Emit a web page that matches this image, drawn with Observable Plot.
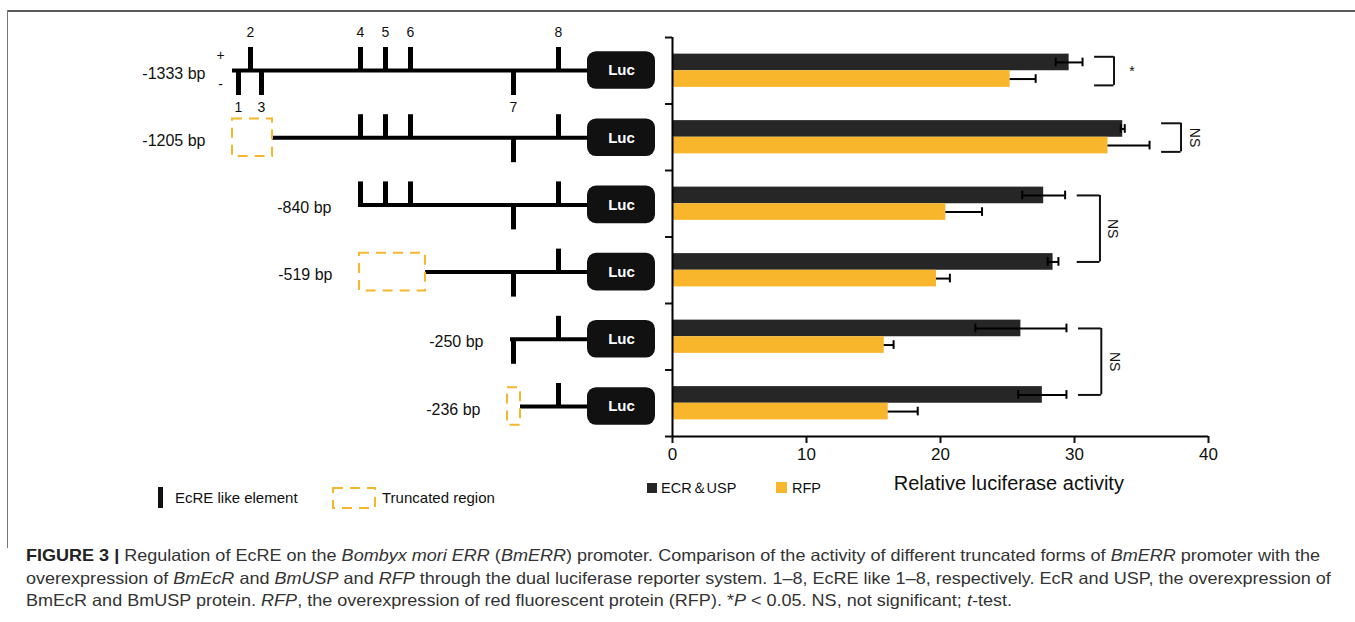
<!DOCTYPE html>
<html><head><meta charset="utf-8">
<script src="https://cdn.jsdelivr.net/npm/d3@7"></script>
<script src="https://cdn.jsdelivr.net/npm/@observablehq/plot@0.6"></script>
<style>
body{margin:0;background:#fff;}
#fig{position:relative;width:1355px;height:622px;overflow:hidden;font-family:"Liberation Sans",Arial,sans-serif;color:#111;}
.abs{position:absolute;}
.lg{position:absolute;font-size:15px;line-height:18px;white-space:nowrap;color:#111;}
#caption{position:absolute;left:26px;top:544px;font-size:16.5px;line-height:22.5px;color:#333;white-space:nowrap;}
#caption .ln{display:inline-block;transform-origin:0 50%;}
</style></head><body>
<div id="fig">
  <div class="abs" style="left:7px;top:10px;width:1348px;height:2px;background:#5a5a5a"></div>
  <div class="abs" style="left:7px;top:10px;width:1px;height:538px;background:#777"></div>
  <div id="diagram" class="abs" style="left:0;top:0"></div>
  <div id="bars" class="abs" style="left:0;top:0"></div>

  <div class="abs" style="left:158px;top:487px;width:5px;height:21px;background:#111"></div>
  <div class="lg" style="left:175px;top:489px">EcRE like element</div>
  <svg class="abs" style="left:332px;top:487px" width="45" height="23"><rect x="1" y="1" width="42" height="20" fill="none" stroke="#F8B62D" stroke-width="2" stroke-dasharray="10,7"/></svg>
  <div class="lg" style="left:382px;top:489px">Truncated region</div>

  <div class="abs" style="left:647px;top:483px;width:10px;height:10px;background:#262626"></div>
  <div class="lg" style="left:661px;top:479px;font-size:14.5px">ECR＆USP</div>
  <div class="abs" style="left:776px;top:482px;width:11px;height:11px;background:#F8B62D"></div>
  <div class="lg" style="left:792px;top:479px;font-size:14.5px">RFP</div>

  <div id="caption">
    <div><span class="ln"><b style="color:#222">FIGURE 3 |</b> Regulation of EcRE on the <i>Bombyx mori ERR</i> (<i>BmERR</i>) promoter. Comparison of the activity of different truncated forms of <i>BmERR</i> promoter with the</span></div>
    <div><span class="ln">overexpression of <i>BmEcR</i> and <i>BmUSP</i> and <i>RFP</i> through the dual luciferase reporter system. 1–8, EcRE like 1–8, respectively. EcR and USP, the overexpression of</span></div>
    <div><span class="ln">BmEcR and BmUSP protein. <i>RFP</i>, the overexpression of red fluorescent protein (RFP). *<i>P</i> &lt; 0.05. NS, not significant; <i>t</i>-test.</span></div>
  </div>
</div>
<script>
// ---------- data ----------
const constructs = ["-1333 bp", "-1205 bp", "-840 bp", "-519 bp", "-250 bp", "-236 bp"];
const seriesNames = ["ECR＆USP", "RFP"];
const ecrMean = [29.6, 33.6, 27.7, 28.4, 26.0, 27.6];
const ecrErr  = [1.0, 0.15, 1.6, 0.4, 3.4, 1.8];
const rfpMean = [25.2, 32.5, 20.4, 19.7, 15.8, 16.1];
const rfpErr  = [1.9, 3.1, 2.7, 1.0, 0.7, 2.2];
const sigTests = [
  {first: 0, last: 0, label: "*"},
  {first: 1, last: 1, label: "NS"},
  {first: 2, last: 3, label: "NS"},
  {first: 4, last: 5, label: "NS"}
];
const xTicks = [0, 10, 20, 30, 40];
const xTitle = "Relative luciferase activity";

// promoter schematic (positions along the drawn promoter, schematic units)
const elementIds = [1, 2, 3, 4, 5, 6, 7, 8];
const elementPos = [238, 250, 261, 360, 385, 410, 513, 558];
const elementStrand = ["-", "+", "-", "+", "+", "+", "-", "+"];
const constructElements = [[1,2,3,4,5,6,7,8], [4,5,6,7,8], [4,5,6,7,8], [7,8], [7,8], [8]];
const constructStart = [232, 272, 358, 425, 510, 520];
const truncatedFrom  = [null, 232, null, 359, null, 507];
const lucStart = 587, lucEnd = 655;
const reporterName = "Luc";

// ---------- colors ----------
const cBlack = "#262626", cOrange = "#F8B62D";
const font = "Liberation Sans, Arial, sans-serif";

// ---------- bar chart ----------
const rows = constructs.flatMap((c, i) => [
  {i, construct: c, series: seriesNames[0], slot: 0, mean: ecrMean[i], lo: ecrMean[i] - ecrErr[i], hi: ecrMean[i] + ecrErr[i]},
  {i, construct: c, series: seriesNames[1], slot: 1, mean: rfpMean[i], lo: rfpMean[i], hi: rfpMean[i] + rfpErr[i]}
]);
const yTop = d => d.i + 0.25 + d.slot * 0.25;
const yMid = d => yTop(d) + 0.125;

const brackets = sigTests.map(t => {
  const hi = d3.max(rows.filter(d => d.i >= t.first && d.i <= t.last), d => d.hi);
  const single = t.first === t.last;
  return {...t, x1: hi + 0.9, x2: hi + (single ? 2.35 : 2.6),
    y1: single ? t.first + 0.29 : t.first + 0.375,
    y2: single ? t.first + 0.72 : t.last + 0.375};
});

const bars = Plot.plot({
  width: 1355, height: 520,
  marginLeft: 672, marginRight: 147, marginTop: 37, marginBottom: 84,
  style: {fontFamily: font, fontSize: "17px", color: "#111", background: "transparent", overflow: "visible"},
  x: {domain: [0, 40]},
  y: {domain: [0, 6], reverse: true},
  color: {domain: seriesNames, range: [cBlack, cOrange]},
  marks: [
    Plot.rect(rows, {x1: 0, x2: "mean", y1: yTop, y2: d => yTop(d) + 0.25, fill: "series"}),
    Plot.ruleY(rows, {y: yMid, x1: "lo", x2: "hi", stroke: "#000", strokeWidth: 2}),
    Plot.ruleX(rows, {x: "hi", y1: d => yMid(d) - 0.065, y2: d => yMid(d) + 0.065, stroke: "#000", strokeWidth: 2}),
    Plot.ruleX(rows.filter(d => d.slot === 0), {x: "lo", y1: d => yMid(d) - 0.065, y2: d => yMid(d) + 0.065, stroke: "#000", strokeWidth: 2}),
    Plot.ruleX(brackets, {x: "x2", y1: "y1", y2: "y2", stroke: "#111", strokeWidth: 2}),
    Plot.ruleY(brackets, {y: "y1", x1: "x1", x2: "x2", stroke: "#111", strokeWidth: 2}),
    Plot.ruleY(brackets, {y: "y2", x1: "x1", x2: "x2", stroke: "#111", strokeWidth: 2}),
    Plot.text(brackets.filter(d => d.label !== "NS"), {x: "x2", y: d => (d.y1 + d.y2) / 2, text: "label", dx: 18, fontSize: 14}),
    Plot.text(brackets.filter(d => d.label === "NS"), {x: "x2", y: d => (d.y1 + d.y2) / 2, text: "label", dx: 13, rotate: 90, fontSize: 14}),
    Plot.axisY({ticks: d3.range(0, 7), tickFormat: () => "", tickSize: 7, strokeWidth: 2, label: null}),
    Plot.ruleX([0], {stroke: "#000", strokeWidth: 2}),
    Plot.axisX({ticks: xTicks, tickSize: 7, tickPadding: 4, strokeWidth: 2, label: null, fontSize: 17}),
    Plot.ruleY([6], {stroke: "#000", strokeWidth: 2}),
    Plot.text([xTitle], {x: 25.1, frameAnchor: "bottom", dy: 53, fontSize: 20, text: d => d})
  ]
});
document.getElementById("bars").appendChild(bars);

// ---------- promoter schematic ----------
const diagRows = constructs.map((c, i) => ({i, construct: c, start: constructStart[i], trunc: truncatedFrom[i]}));
const elemTicks = constructElements.flatMap((ids, i) => ids.map(id => ({
  i, id, pos: elementPos[elementIds.indexOf(id)], strand: elementStrand[elementIds.indexOf(id)]
})));
const mid = d => d.i + 0.5;

const diagram = Plot.plot({
  width: 1355, height: 520, margin: 0,
  style: {fontFamily: font, fontSize: "16px", color: "#111", background: "transparent", overflow: "visible"},
  x: {domain: [0, 1355], range: [0, 1355], axis: null},
  y: {domain: [0, 6], range: [36.4, 439.6], axis: null},
  marks: [
    Plot.ruleY(diagRows, {y: mid, x1: "start", x2: lucStart, stroke: "#000", strokeWidth: 4}),
    Plot.ruleX(elemTicks, {x: "pos", y1: mid, y2: d => d.strand === "+" ? mid(d) - 0.342 : mid(d) + 0.372, stroke: "#000", strokeWidth: 5}),
    Plot.rect(diagRows.filter(d => d.trunc != null), {x1: "trunc", x2: "start", y1: d => mid(d) - 0.28, y2: d => mid(d) + 0.28, fill: "none", stroke: cOrange, strokeWidth: 2, strokeDasharray: "10,7"}),
    Plot.rect(diagRows, {x1: lucStart, x2: lucEnd, y1: d => mid(d) - 0.28, y2: d => mid(d) + 0.28, fill: "#111", rx: 9}),
    Plot.text(diagRows, {x: (lucStart + lucEnd) / 2, y: mid, text: () => reporterName, fill: "#fff", fontWeight: "bold", fontSize: 15}),
    Plot.text(diagRows, {x: d => d.trunc ?? d.start, y: mid, text: "construct", textAnchor: "end", dx: -27, dy: 3, fontSize: 16}),
    Plot.text(elemTicks.filter(d => d.i === 0 && d.strand === "+"), {x: "pos", y: mid, text: d => String(d.id), dy: -38, fontSize: 14}),
    Plot.text(elemTicks.filter(d => d.i === 0 && d.strand === "-"), {x: "pos", y: mid, text: d => String(d.id), dy: 37, fontSize: 14}),
    Plot.text(diagRows.slice(0, 1), {x: "start", y: mid, text: () => "+", dx: -12, dy: -15, fontSize: 14}),
    Plot.text(diagRows.slice(0, 1), {x: "start", y: mid, text: () => "-", dx: -12, dy: 14, fontSize: 14})
  ]
});
document.getElementById("diagram").appendChild(diagram);

// ---------- caption fitting ----------
const lns = document.querySelectorAll("#caption .ln");
const k = 1294 / lns[0].getBoundingClientRect().width;
lns.forEach(l => l.style.transform = `scaleX(${k})`);
</script>
</body></html>
